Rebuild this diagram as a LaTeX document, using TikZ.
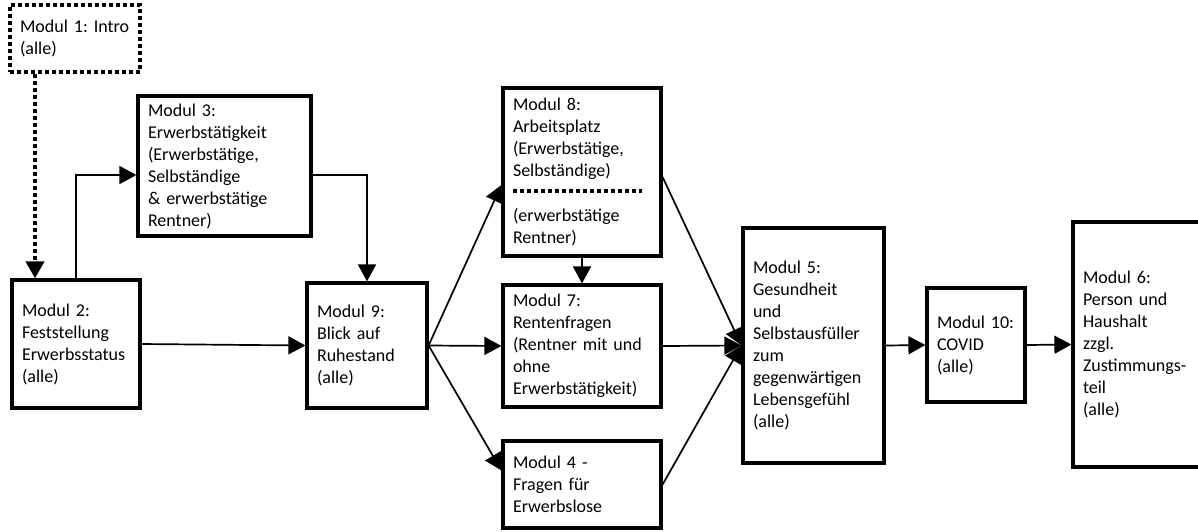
\documentclass[tikz,border=0pt]{standalone}
\usepackage{fontspec}
\setmainfont{Carlito}
\usetikzlibrary{arrows.meta,calc}
\hyphenpenalty=10000
\exhyphenpenalty=10000

\begin{document}
\begin{tikzpicture}[x=1pt,y=-1pt,
  modul/.style={draw, line width=3.2pt, align=left, inner xsep=10pt, inner ysep=0pt,
    font=\fontsize{18}{22}\selectfont},
  pfeil/.style={-{Triangle[length=17pt,width=18pt]}, line width=1.7pt},
  punkte/.style={line width=4pt, dash pattern=on 4pt off 3pt}]
\useasboundingbox (0,0) rectangle (1198,531);
% Module
\node[modul, punkte, minimum width=130pt, minimum height=67pt, text width=110pt] (m1) at (75,38.5) {Modul~1:~Intro\\(alle)};
\node[modul, minimum width=128pt, minimum height=128pt, text width=108pt] (m2) at (76,344) {Modul~2:\\Feststellung\\Erwerbsstatus\\(alle)};
\node[modul, minimum width=173pt, minimum height=140pt, text width=153pt] (m3) at (224.5,166) {Modul~3:\\Erwerbstätigkeit\\(Erwerbstätige,\\Selbständige\\\&~erwerbstätige\\Rentner)};
\node[modul, minimum width=120pt, minimum height=125pt, text width=100pt] (m9) at (367,345.5) {Modul~9:\\Blick~auf\\Ruhestand\\(alle)};
\node[modul, minimum width=158pt, minimum height=168pt, text width=138pt] (m8) at (582,172) {Modul~8:\\Arbeitsplatz\\(Erwerbstätige,\\Selbständige)\\[23pt](erwerbstätige\\Rentner)};
\node[modul, minimum width=158pt, minimum height=122pt, text width=138pt] (m7) at (582,346) {Modul~7:\\Rentenfragen\\(Rentner~mit~und\\ohne\\Erwerbstätigkeit)};
\node[modul, minimum width=158pt, minimum height=87pt, text width=138pt] (m4) at (582,484.5) {Modul~4~-\\Fragen~für\\Erwerbslose};
\node[modul, minimum width=141pt, minimum height=235pt, text width=121pt] (m5) at (813.5,345.5) {Modul~5:\\Gesundheit\\und\\Selbstausfüller\\zum\\gegenwärtigen\\Lebensgefühl\\(alle)};
\node[modul, minimum width=98pt, minimum height=114pt, text width=78pt] (m10) at (976,345) {Modul~10:\\COVID\\(alle)};
\node[modul, minimum width=147pt, minimum height=245pt, text width=127pt] (m6) at (1146.5,344.5) {Modul~6:\\Person~und\\Haushalt\\zzgl.\\Zustimmungs-\\teil\\(alle)};
\draw[punkte] ($(m8.north west)+(12,105)$) -- ($(m8.north east)+(-21,105)$);
% Pfeile
\draw[pfeil, punkte] ([xshift=-40pt]m1.south) -- ([xshift=-41pt]m2.north);
\draw[pfeil] (m2.north) |- ([yshift=-9pt]m3.west);
\draw[pfeil] ([yshift=-9pt]m3.east) -| (m9.north);
\draw[pfeil] (m2.east) -- (m9.west);
\draw[pfeil] (m9.east) -- ([yshift=-13pt]m8.west);
\draw[pfeil] (m9.east) -- (m7.west);
\draw[pfeil] (m9.east) -- ([yshift=14pt]m4.west);
\draw[pfeil] (m8.south) -- (m7.north);
\draw[pfeil] ([yshift=-5pt]m8.east) -- (m5.west);
\draw[pfeil] (m7.east) -- (m5.west);
\draw[pfeil] (m4.east) -- (m5.west);
\draw[pfeil] (m5.east) -- (m10.west);
\draw[pfeil] (m10.east) -- (m6.west);
\end{tikzpicture}
\end{document}
